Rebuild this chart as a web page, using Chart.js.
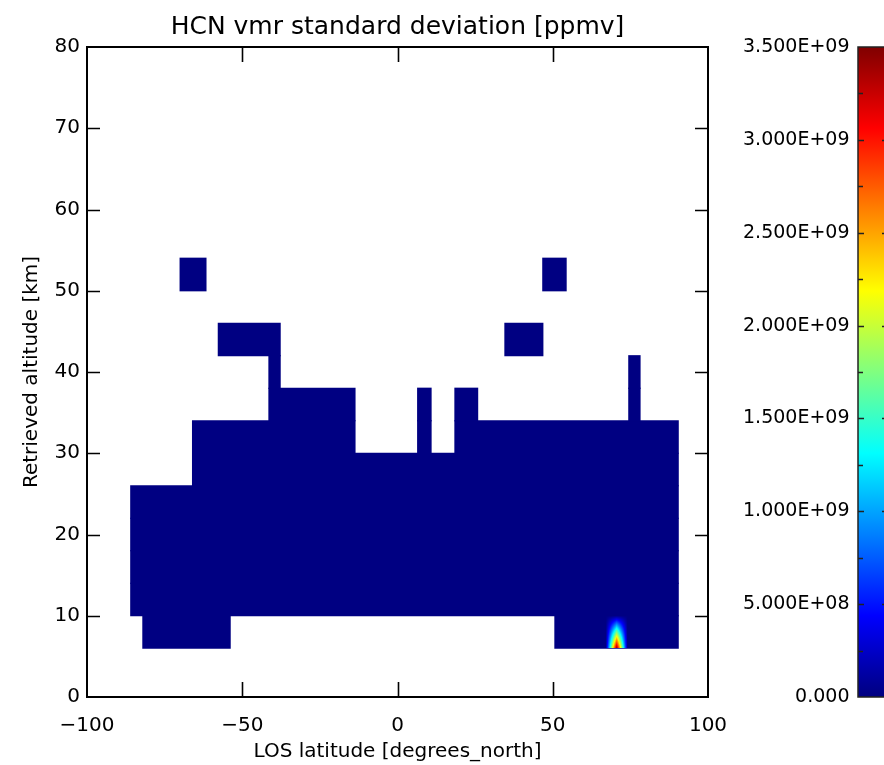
<!DOCTYPE html>
<html><head><meta charset="utf-8">
<script src="https://cdn.jsdelivr.net/npm/chart.js@4.4.1/dist/chart.umd.min.js"></script>
<style>html,body{margin:0;padding:0;background:#fff;overflow:hidden}#wrap{position:relative;width:884px;height:765px}canvas{display:block}</style>
</head><body><div id="wrap"><canvas id="c" width="884" height="765"></canvas></div>
<script>
// ---- texts ----
const titleText = 'HCN vmr standard deviation [ppmv]';
const xTitle = 'LOS latitude [degrees_north]';
const yTitle = 'Retrieved altitude [km]';
// ---- tick labels ----
const xTickValues = [-100, -50, 0, 50, 100];
const yTickValues = [0, 10, 20, 30, 40, 50, 60, 70, 80];
const colorbarTicks = [0, 5e8, 1e9, 1.5e9, 2e9, 2.5e9, 3e9, 3.5e9];
const colorbarMinorTicks = [2.5e8, 7.5e8, 1.25e9, 1.75e9, 2.25e9, 2.75e9, 3.25e9];
const colorMin = 0, colorMax = 3.5e9;
// ---- grid cells (altitude bin bottom [km], latitude start/end [deg], value [ppmv]) ----
const altBinSize = 4;
const cellAltBottom = [6, 6, 10, 14, 18, 22, 26, 30, 30, 30, 34, 34, 34, 34, 38, 38, 42, 42, 50, 50];
const cellLatStart  = [-82, 50.7, -85.9, -85.9, -85.9, -85.9, -66, -66, 6.5, 18.5, -41.4, 6.5, 18.5, 74.5, -41.4, 74.5, -57.7, 34.6, -70, 46.8];
const cellLatEnd    = [-53.9, 90.4, 90.4, 90.4, 90.4, 90.4, 90.4, -13.7, 10.8, 90.4, -13.7, 10.8, 25.8, 78.1, -37.8, 78.1, -37.8, 46.8, -61.7, 54.3];
const cellValue     = [1e7, 1e7, 1e7, 1e7, 1e7, 1e7, 1e7, 1e7, 1e7, 1e7, 1e7, 1e7, 1e7, 1e7, 1e7, 1e7, 1e7, 1e7, 1e7, 1e7];
// ---- single high-value grid point (interpolated towards neighbours) ----
const hotLat = [70.6];
const hotAlt = [6.0];
const hotValue = [3.45e9];
const hotLatSpacing = [3.5];

const FONT = 'DejaVu Sans';
function jet(t) {
  t = Math.max(0, Math.min(1, t));
  const c = x => Math.round(255 * Math.max(0, Math.min(1, x)));
  return [c(1.5 - Math.abs(4 * t - 3)), c(1.5 - Math.abs(4 * t - 2)), c(1.5 - Math.abs(4 * t - 1))];
}
function jetCss(v) { const c = jet((v - colorMin) / (colorMax - colorMin)); return `rgb(${c[0]},${c[1]},${c[2]})`; }
function expLabel(v) {
  if (v === 0) return '0.000';
  return v.toExponential(3).toUpperCase().replace(/E([+-])(\d)$/, 'E$10$2');
}

const decor = {
  id: 'decor',
  beforeDraw(chart) {
    const ctx = chart.ctx;
    ctx.save(); ctx.fillStyle = '#fff'; ctx.fillRect(0, 0, chart.width, chart.height); ctx.restore();
  },
  afterDatasetsDraw(chart) {
    const ctx = chart.ctx, xs = chart.scales.x, ys = chart.scales.y, a = chart.chartArea;
    ctx.save();
    ctx.beginPath(); ctx.rect(a.left, a.top, a.right - a.left, a.bottom - a.top); ctx.clip();
    for (let k = 0; k < hotLat.length; k++) {
      const px0 = Math.floor(xs.getPixelForValue(hotLat[k] - hotLatSpacing[k]));
      const px1 = Math.ceil(xs.getPixelForValue(hotLat[k] + hotLatSpacing[k]));
      const py0 = Math.floor(ys.getPixelForValue(hotAlt[k] + altBinSize));
      const py1 = Math.ceil(ys.getPixelForValue(hotAlt[k]));
      for (let px = px0; px < px1; px++) {
        for (let py = py0; py < py1; py++) {
          const lat = xs.getValueForPixel(px + 0.5), alt = ys.getValueForPixel(py + 0.5);
          if (alt < hotAlt[k]) continue;
          const fx = Math.max(0, 1 - Math.abs(lat - hotLat[k]) / hotLatSpacing[k]);
          const fy = Math.max(0, 1 - (alt - hotAlt[k]) / altBinSize);
          if (fx * fy <= 0) continue;
          const v = 1.0e7 + hotValue[k] * fx * fy;
          ctx.fillStyle = jetCss(v);
          ctx.fillRect(px, py, 1, 1);
        }
      }
    }
    ctx.restore();
  },
  afterDraw(chart) {
    const ctx = chart.ctx, xs = chart.scales.x, ys = chart.scales.y, cb = chart.scales.cb, a = chart.chartArea;
    ctx.save();
    ctx.strokeStyle = '#000';
    ctx.lineWidth = 2;
    ctx.strokeRect(a.left, a.top, a.right - a.left, a.bottom - a.top);
    ctx.lineWidth = 1.6;
    ctx.beginPath();
    xTickValues.forEach(v => {
      if (v === xs.min || v === xs.max) return;
      const p = Math.round(xs.getPixelForValue(v)) + 0.5;
      ctx.moveTo(p, a.bottom); ctx.lineTo(p, a.bottom - 15);
      ctx.moveTo(p, a.top); ctx.lineTo(p, a.top + 15);
    });
    yTickValues.forEach(v => {
      if (v === ys.min || v === ys.max) return;
      const p = Math.round(ys.getPixelForValue(v)) + 0.5;
      ctx.moveTo(a.left, p); ctx.lineTo(a.left + 13, p);
      ctx.moveTo(a.right, p); ctx.lineTo(a.right - 13, p);
    });
    ctx.stroke();
    // colour bar
    const x0 = cb.right + 8.5, x1 = 890;
    const yTop = cb.getPixelForValue(colorMax), yBot = cb.getPixelForValue(colorMin);
    const g = ctx.createLinearGradient(0, yBot, 0, yTop);
    for (let i = 0; i <= 64; i++) { const c = jet(i / 64); g.addColorStop(i / 64, `rgb(${c[0]},${c[1]},${c[2]})`); }
    ctx.fillStyle = g;
    ctx.fillRect(x0, yTop, x1 - x0, yBot - yTop);
    ctx.strokeStyle = '#222';
    ctx.lineWidth = 1.5;
    ctx.strokeRect(x0, yTop, x1 - x0, yBot - yTop);
    ctx.lineWidth = 1.3;
    ctx.beginPath();
    colorbarTicks.forEach(v => {
      if (v === colorMin || v === colorMax) return;
      const p = Math.round(cb.getPixelForValue(v)) + 0.5;
      ctx.moveTo(x0, p); ctx.lineTo(x0 + 6, p);
      ctx.moveTo(x1, p); ctx.lineTo(x1 - 8, p);
    });
    colorbarMinorTicks.forEach(v => {
      const p = Math.round(cb.getPixelForValue(v)) + 0.5;
      ctx.moveTo(x0, p); ctx.lineTo(x0 + 5, p);
    });
    ctx.stroke();
    ctx.restore();
  }
};

Chart.defaults.color = '#000';
Chart.defaults.font.family = FONT;

new Chart(document.getElementById('c'), {
  type: 'bar',
  data: {
    datasets: [{
      data: cellAltBottom.map((alt, i) => ({ x: [cellLatStart[i], cellLatEnd[i]], y: alt + altBinSize / 2 })),
      backgroundColor: cellValue.map(v => jetCss(v)),
      borderWidth: 0,
      barPercentage: 1,
      categoryPercentage: 1,
      inflateAmount: 0.6
    }]
  },
  options: {
    indexAxis: 'y',
    responsive: false,
    animation: false,
    events: [],
    layout: { padding: { left: 0, right: 34.5, top: 0, bottom: 0 } },
    plugins: {
      legend: { display: false },
      tooltip: { enabled: false },
      title: { display: true, text: titleText, fullSize: false, font: { size: 25, weight: 'normal', family: FONT }, color: '#000', padding: { top: 12.5, bottom: 4.5 } }
    },
    scales: {
      x: {
        type: 'linear', min: -100, max: 100, position: 'bottom',
        afterBuildTicks: s => { s.ticks = xTickValues.map(v => ({ value: v })); },
        ticks: { font: { size: 20 }, padding: 17, maxRotation: 0, autoSkip: false, callback: v => v < 0 ? '\u2212' + Math.abs(v) : String(v) },
        grid: { display: false, drawTicks: false }, border: { display: false },
        title: { display: true, text: xTitle, font: { size: 20 }, padding: { top: 0, bottom: 1 } },
        afterFit: s => { s.height = 68; }
      },
      y: {
        type: 'linear', min: 0, max: 80, offset: false, position: 'left',
        afterBuildTicks: s => { s.ticks = yTickValues.map(v => ({ value: v })); },
        ticks: { font: { size: 20 }, padding: 7, autoSkip: false, callback: v => String(v) },
        grid: { display: false, drawTicks: false, offset: false }, border: { display: false },
        title: { display: true, text: yTitle, font: { size: 20 }, padding: { top: 20, bottom: 0 } },
        afterFit: s => { s.width = 87; }
      },
      cb: {
        type: 'linear', min: colorMin, max: colorMax, offset: false, position: 'right',
        afterBuildTicks: s => { s.ticks = colorbarTicks.map(v => ({ value: v })); },
        ticks: { font: { size: 19 }, crossAlign: 'far', padding: 0, autoSkip: false, callback: v => expLabel(v) },
        grid: { display: false, drawTicks: false, offset: false }, border: { display: false },
        afterFit: s => { s.width = 141.5; }
      }
    }
  },
  plugins: [decor]
});
</script>
</body></html>
